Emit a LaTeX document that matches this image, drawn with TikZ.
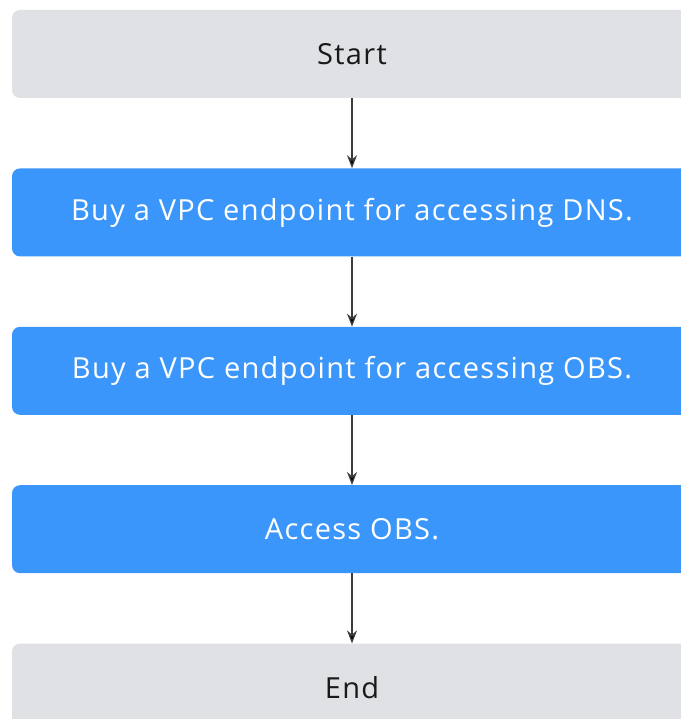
\documentclass[tikz,border=0pt]{standalone}
\usepackage{fontspec}
\setmainfont[LetterSpace=4.5]{Open Sans}
\usetikzlibrary{arrows.meta,positioning}
\definecolor{stepblue}{HTML}{3A96FA}
\definecolor{termgray}{HTML}{DFE1E5}
\definecolor{flowgray}{HTML}{3C3C3C}

\begin{document}
\begin{tikzpicture}[x=1pt,y=1pt,>={Stealth[length=13pt,width=10pt]},node distance=70pt,
  every node/.style={rounded corners=8pt,minimum width=680pt,minimum height=88pt,inner sep=0pt,font=\fontsize{29}{34}\selectfont},
  term/.style={fill=termgray,text=black!90},
  act/.style={fill=stepblue,text=white}]

\useasboundingbox (0,0) rectangle (680,-719);

\node[term]   (start)                    at (352,-54) {Start};
  \node[act]  (dns)  [below=of start]   {Buy a VPC endpoint for accessing DNS.};
	\node[act]  (obs)  [below=of dns]     {Buy a VPC endpoint for accessing OBS.};
	\node[act]  (acc)  [below=of obs]     {Access OBS.};
	\node[term] (end)  [below=of acc]     {End};

	\path[->,draw=flowgray,line width=1.3pt] (start) edge (dns)
					(dns) edge (obs)
					(obs) edge (acc)
					(acc) edge (end);

\end{tikzpicture}
\end{document}
